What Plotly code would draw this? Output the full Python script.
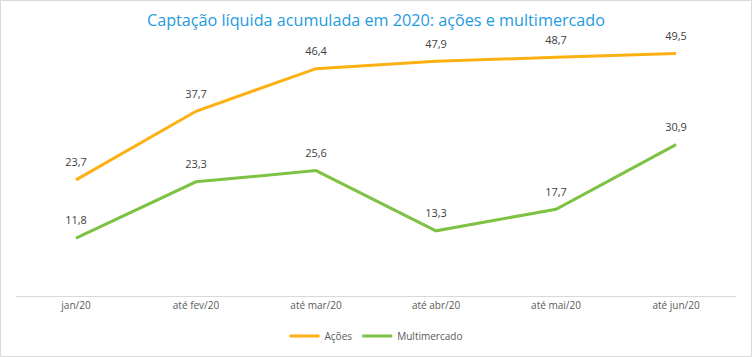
import plotly.graph_objects as go

categories = ["jan/20", "até fev/20", "até mar/20", "até abr/20", "até mai/20", "até jun/20"]
acoes = [23.7, 37.7, 46.4, 47.9, 48.7, 49.5]
multimercado = [11.8, 23.3, 25.6, 13.3, 17.7, 30.9]

def fmt(v):
    return f"{v:.1f}".replace(".", ",")

W, H = 752, 357
ml, mr, mt, mb = 16, 16, 51, 61

fig = go.Figure()
for name, vals, color in [("Ações", acoes, "#FDB012"), ("Multimercado", multimercado, "#7DC243")]:
    fig.add_trace(go.Scatter(
        x=categories, y=vals, name=name, mode="lines+markers+text",
        line=dict(color=color, width=3),
        marker=dict(size=16, color="rgba(0,0,0,0)", line=dict(width=0)),
        text=[fmt(v) for v in vals], textposition="top center",
        textfont=dict(size=11, color="#404040"), cliponaxis=False))

fig.update_layout(
    width=W, height=H,
    margin=dict(l=ml, r=mr, t=mt, b=mb, autoexpand=False),
    paper_bgcolor="white", plot_bgcolor="white",
    font=dict(family="Open Sans, Noto Sans, sans-serif", color="#595959"),
    title=dict(text="Captação líquida acumulada em 2020: ações e multimercado",
               x=0.5, xanchor="center", y=1 - 20 / H, yanchor="middle",
               font=dict(size=16.2, color="#1F9BDE"), automargin=False),
    xaxis=dict(type="category", showgrid=False, showline=True, linecolor="#D9D9D9",
               linewidth=1, ticks="", tickfont=dict(size=10, color="#595959"),
               zeroline=False, range=[-0.5, 5.5], automargin=False),
    yaxis=dict(range=[0, 50], showgrid=False, showticklabels=False, zeroline=False,
               showline=False, automargin=False),
    legend=dict(orientation="h", x=0.5, xanchor="center", y=-(336 - 296) / (H - mt - mb),
                yanchor="middle", font=dict(size=10, color="#595959")),
    showlegend=True,
)

pw = W - ml - mr
ph = H - mt - mb
fig.add_shape(type="rect", xref="paper", yref="paper",
              x0=(0.5 - ml) / pw, x1=(W - 0.5 - ml) / pw,
              y0=-(mb - 0.5) / ph, y1=1 + (mt - 0.5) / ph,
              line=dict(color="#D9D9D9", width=1), layer="below")

fig.write_html("out.html", config={"displayModeBar": False},
               post_script="document.body.style.margin='0';document.body.style.overflow='hidden';")
